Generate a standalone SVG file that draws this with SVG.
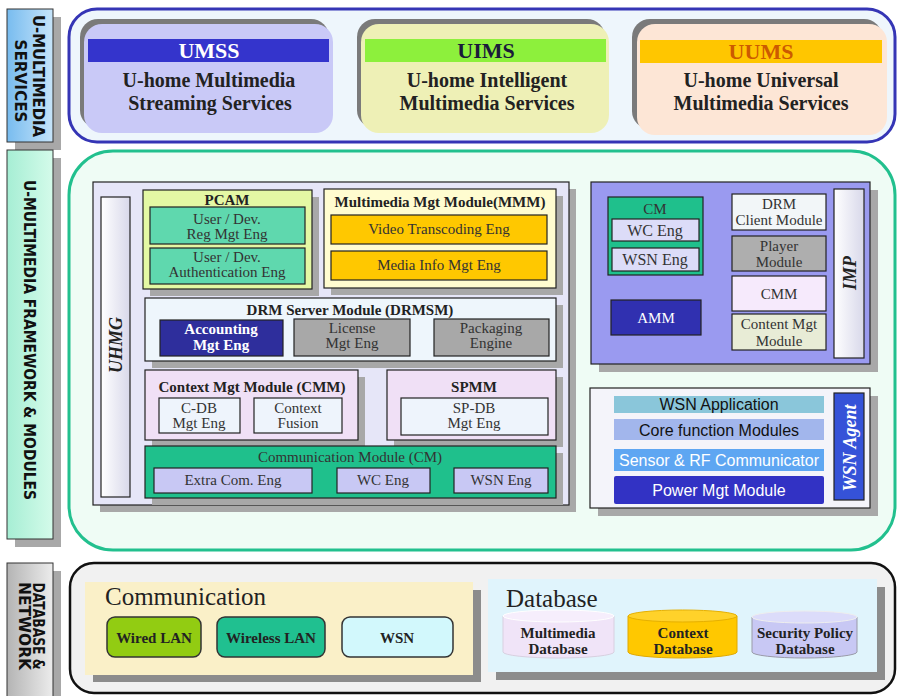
<svg xmlns="http://www.w3.org/2000/svg" width="898" height="696" viewBox="0 0 898 696">
<defs>
<linearGradient id="gBlue" x1="0" y1="0" x2="1" y2="0"><stop offset="0" stop-color="#78bcef"/><stop offset="1" stop-color="#c6e4fa"/></linearGradient>
<linearGradient id="gMint" x1="0" y1="0" x2="1" y2="0"><stop offset="0" stop-color="#a6eed4"/><stop offset="1" stop-color="#d4fbea"/></linearGradient>
<linearGradient id="gGrey" x1="0" y1="0" x2="1" y2="0"><stop offset="0" stop-color="#b4b4b4"/><stop offset="1" stop-color="#ececec"/></linearGradient>
<linearGradient id="gBar" x1="0" y1="0" x2="1" y2="0"><stop offset="0" stop-color="#ffffff"/><stop offset="1" stop-color="#d8d8ea"/></linearGradient>
</defs>
<style>
.sf{font-family:"Liberation Serif","Times New Roman",serif}
.ss{font-family:"Liberation Sans",Arial,sans-serif;font-size:16px}
.lb{font-family:"DejaVu Sans",Verdana,sans-serif;font-weight:bold;fill:#111}
.b{font-weight:bold}
.i{font-style:italic}
.c{text-anchor:middle}
.ln{stroke:#222;stroke-width:1.2}
.sh{fill:#a8a8a8}
.t{font-size:15px;fill:#333}
.h{font-size:15px;font-weight:bold;fill:#222}
.w{fill:#fff}
</style>

<!-- left labels -->
<g id="lbl-services">
<rect x="15" y="17" width="46" height="133" class="sh"/>
<rect x="7" y="9" width="46" height="133" fill="url(#gBlue)" stroke="#333"/>
<text class="lb c" font-size="15" transform="translate(33,76) rotate(90)" textLength="122" lengthAdjust="spacingAndGlyphs">U-MULTIMEDIA</text>
<text class="lb c" font-size="15" transform="translate(15,81) rotate(90)" textLength="83" lengthAdjust="spacingAndGlyphs">SERVICES</text>
</g>
<g id="lbl-framework">
<rect x="15" y="158" width="46" height="389" class="sh"/>
<rect x="7" y="150" width="46" height="389" fill="url(#gMint)" stroke="#333"/>
<text class="lb c" font-size="16" transform="translate(24,340) rotate(90)" textLength="320" lengthAdjust="spacingAndGlyphs">U-MULTIMEDIA FRAMEWORK &amp; MODULES</text>
</g>
<g id="lbl-database">
<rect x="15" y="571" width="46" height="140" class="sh"/>
<rect x="7" y="563" width="46" height="140" fill="url(#gGrey)" stroke="#333"/>
<text class="lb c" font-size="16" transform="translate(33,626) rotate(90)" textLength="87" lengthAdjust="spacingAndGlyphs">DATABASE &amp;</text>
<text class="lb c" font-size="16" transform="translate(19,626) rotate(90)" textLength="88" lengthAdjust="spacingAndGlyphs">NETWORK</text>
</g>

<!-- services panel -->
<g id="services">
<rect x="69" y="9" width="826" height="133" rx="28" fill="#eef6fc" stroke="#3535b5" stroke-width="3"/>
<g id="umss">
<rect x="80" y="19" width="249" height="109" rx="18" fill="#7a7a7a"/>
<rect x="84" y="24" width="249" height="109" rx="18" fill="#c9c9f7"/>
<rect x="88" y="39" width="241" height="23" fill="#3434cc"/>
<text class="sf b c w" font-size="22" x="209" y="58">UMSS</text>
<text class="sf b c" font-size="20" fill="#222" x="209" y="87">U-home Multimedia</text>
<text class="sf b c" font-size="20" fill="#222" x="210" y="110">Streaming Services</text>
</g>
<g id="uims">
<rect x="357" y="19" width="248" height="109" rx="18" fill="#7a7a7a"/>
<rect x="361" y="24" width="248" height="109" rx="18" fill="#eef0b6"/>
<rect x="365" y="39" width="241" height="23" fill="#8df03c"/>
<text class="sf b c" font-size="22" fill="#1a1a3a" x="486" y="58">UIMS</text>
<text class="sf b c" font-size="20" fill="#222" x="487" y="87">U-home Intelligent</text>
<text class="sf b c" font-size="20" fill="#222" x="487" y="110">Multimedia Services</text>
</g>
<g id="uums">
<rect x="632" y="19" width="250" height="110" rx="18" fill="#7a7a7a"/>
<rect x="637" y="24" width="250" height="111" rx="18" fill="#fde6d6"/>
<rect x="640" y="40" width="242" height="23" fill="#ffc600"/>
<text class="sf b c" font-size="22" fill="#cc5a00" x="761" y="59">UUMS</text>
<text class="sf b c" font-size="20" fill="#222" x="761" y="87">U-home Universal</text>
<text class="sf b c" font-size="20" fill="#222" x="761" y="110">Multimedia Services</text>
</g>
</g>

<!-- framework panel -->
<g id="framework">
<rect x="69" y="151" width="826" height="399" rx="44" fill="#effcf5" stroke="#22c08e" stroke-width="3"/>

<g id="uhmg">
<rect x="100" y="189" width="476" height="323" class="sh"/>
<rect x="93" y="182" width="476" height="323" fill="#e6e6f8" class="ln"/>
<rect x="101" y="197" width="29" height="300" fill="url(#gBar)" class="ln"/>
<text class="sf b i c" font-size="18" fill="#222" transform="translate(122,345) rotate(-90)">UHMG</text>
</g>

<g id="pcam">
<rect x="150" y="197" width="169" height="99" class="sh"/>
<rect x="143" y="190" width="169" height="99" fill="#e4f8a4" class="ln"/>
<text class="sf h c" x="227" y="205">PCAM</text>
<rect x="150" y="207" width="155" height="37" fill="#5fd8ae" class="ln"/>
<text class="sf t c" x="227" y="224">User / Dev.</text>
<text class="sf t c" x="227" y="239">Reg Mgt Eng</text>
<rect x="150" y="248" width="155" height="36" fill="#5fd8ae" class="ln"/>
<text class="sf t c" x="227" y="262">User / Dev.</text>
<text class="sf t c" x="227" y="277">Authentication Eng</text>
</g>

<g id="mmm">
<rect x="331" y="196" width="232" height="99" class="sh"/>
<rect x="324" y="189" width="232" height="99" fill="#fffcd0" class="ln"/>
<text class="sf h c" x="440" y="207">Multimedia Mgt Module(MMM)</text>
<rect x="331" y="215" width="216" height="29" fill="#ffc800" class="ln"/>
<text class="sf t c" x="439" y="234">Video Transcoding Eng</text>
<rect x="331" y="251" width="216" height="29" fill="#ffc800" class="ln"/>
<text class="sf t c" x="439" y="270">Media Info Mgt Eng</text>
</g>

<g id="drmsm">
<rect x="152" y="305" width="411" height="63" class="sh"/>
<rect x="145" y="298" width="411" height="63" fill="#eef6fc" class="ln"/>
<text class="sf h c" x="350" y="315">DRM Server Module (DRMSM)</text>
<rect x="160" y="320" width="123" height="36" fill="#2e2e9c" class="ln"/>
<text class="sf h c w" x="221" y="334">Accounting</text>
<text class="sf h c w" x="221" y="350">Mgt Eng</text>
<rect x="294" y="319" width="116" height="37" fill="#a8a8a8" class="ln"/>
<text class="sf t c" x="352" y="333">License</text>
<text class="sf t c" x="352" y="348">Mgt Eng</text>
<rect x="434" y="319" width="115" height="37" fill="#a8a8a8" class="ln"/>
<text class="sf t c" x="491" y="333">Packaging</text>
<text class="sf t c" x="491" y="348">Engine</text>
</g>

<g id="cmm">
<rect x="152" y="377" width="213" height="70" class="sh"/>
<rect x="145" y="370" width="213" height="70" fill="#f0e0f6" class="ln"/>
<text class="sf h c" x="252" y="392">Context Mgt Module (CMM)</text>
<rect x="159" y="398" width="81" height="35" fill="#eef4fc" class="ln"/>
<text class="sf t c" x="199" y="413">C-DB</text>
<text class="sf t c" x="199" y="428">Mgt Eng</text>
<rect x="254" y="398" width="88" height="35" fill="#eef4fc" class="ln"/>
<text class="sf t c" x="298" y="413">Context</text>
<text class="sf t c" x="298" y="428">Fusion</text>
</g>

<g id="spmm">
<rect x="394" y="377" width="169" height="70" class="sh"/>
<rect x="387" y="370" width="169" height="70" fill="#f0e0f6" class="ln"/>
<text class="sf h c" x="474" y="392">SPMM</text>
<rect x="401" y="398" width="147" height="37" fill="#eef4fc" class="ln"/>
<text class="sf t c" x="474" y="413">SP-DB</text>
<text class="sf t c" x="474" y="428">Mgt Eng</text>
</g>

<g id="cm">
<rect x="152" y="453" width="411" height="52" class="sh"/>
<rect x="145" y="446" width="411" height="52" fill="#1fc08c" class="ln"/>
<text class="sf t c" x="350" y="462">Communication Module (CM)</text>
<rect x="154" y="468" width="158" height="25" fill="#c8c8f4" class="ln"/>
<text class="sf t c" x="233" y="485">Extra Com. Eng</text>
<rect x="337" y="468" width="93" height="25" fill="#c8c8f4" class="ln"/>
<text class="sf t c" x="383" y="485">WC Eng</text>
<rect x="454" y="468" width="94" height="25" fill="#c8c8f4" class="ln"/>
<text class="sf t c" x="501" y="485">WSN Eng</text>
</g>

<g id="imp">
<rect x="599" y="190" width="279" height="182" class="sh"/>
<rect x="591" y="182" width="279" height="182" fill="#9a9af0" class="ln"/>
<rect x="608" y="197" width="95" height="78" fill="#1fc08c" class="ln"/>
<text class="sf t c" x="655" y="214">CM</text>
<rect x="612" y="219" width="87" height="22" fill="#dcdcf8" class="ln"/>
<text class="sf c" font-size="16" fill="#333" x="655" y="236">WC Eng</text>
<rect x="612" y="248" width="87" height="23" fill="#dcdcf8" class="ln"/>
<text class="sf c" font-size="16" fill="#333" x="655" y="265">WSN Eng</text>
<rect x="611" y="300" width="90" height="35" fill="#3030b0" class="ln"/>
<text class="sf t c w" x="656" y="323">AMM</text>
<rect x="732" y="194" width="94" height="36" fill="#f2f6f8" class="ln"/>
<text class="sf t c" x="779" y="209">DRM</text>
<text class="sf t c" x="779" y="225">Client Module</text>
<rect x="732" y="236" width="94" height="35" fill="#aeaeae" class="ln"/>
<text class="sf t c" x="779" y="251">Player</text>
<text class="sf t c" x="779" y="267">Module</text>
<rect x="732" y="276" width="94" height="35" fill="#f6eafc" class="ln"/>
<text class="sf t c" x="779" y="299">CMM</text>
<rect x="732" y="314" width="94" height="36" fill="#e8ecd6" class="ln"/>
<text class="sf t c" x="779" y="329">Content Mgt</text>
<text class="sf t c" x="779" y="346">Module</text>
<rect x="834" y="189" width="30" height="169" fill="url(#gBar)" class="ln"/>
<text class="sf b i c" font-size="18" fill="#222" transform="translate(856,273) rotate(-90)">IMP</text>
</g>

<g id="wsn-agent">
<rect x="598" y="396" width="280" height="120" class="sh"/>
<rect x="590" y="388" width="280" height="120" fill="#f4f4fa" class="ln"/>
<rect x="614" y="396" width="210" height="17" fill="#8ac6da"/>
<text class="ss c" fill="#111" x="719" y="410">WSN Application</text>
<rect x="614" y="419" width="210" height="21" fill="#a2b6ec"/>
<text class="ss c" fill="#111" x="719" y="436">Core function Modules</text>
<rect x="614" y="449" width="210" height="22" fill="#5ea6f2"/>
<text class="ss c w" x="719" y="466">Sensor &amp; RF Communicator</text>
<rect x="614" y="476" width="210" height="28" rx="2" fill="#3232c4"/>
<text class="ss c w" x="719" y="496">Power Mgt Module</text>
<rect x="834" y="393" width="30" height="107" fill="#3552d8" class="ln"/>
<text class="sf b i c w" font-size="18" transform="translate(856,448) rotate(-90)">WSN Agent</text>
</g>
</g>

<!-- database & network panel -->
<g id="dbnet">
<rect x="70" y="563" width="825" height="130" rx="24" fill="#f1f1f1" stroke="#111" stroke-width="2.5"/>
<g id="communication">
<rect x="93" y="590" width="388" height="92" fill="#8c8c8c"/>
<rect x="85" y="582" width="388" height="93" fill="#faf0c8"/>
<text class="sf" font-size="25" fill="#222" x="105" y="605">Communication</text>
<rect x="107" y="617" width="94" height="40" rx="8" fill="#92cc12" stroke="#333" stroke-width="1.5"/>
<text class="sf h c" x="154" y="643">Wired LAN</text>
<rect x="217" y="617" width="108" height="40" rx="8" fill="#20c090" stroke="#333" stroke-width="1.5"/>
<text class="sf h c" x="271" y="643">Wireless LAN</text>
<rect x="342" y="617" width="111" height="40" rx="8" fill="#d2f8fc" stroke="#333" stroke-width="1.5"/>
<text class="sf h c" x="397" y="643">WSN</text>
</g>
<g id="database">
<rect x="496" y="587" width="389" height="93" fill="#8c8c8c"/>
<rect x="488" y="579" width="389" height="93" fill="#e0f4fc"/>
<text class="sf" font-size="25" fill="#222" x="506" y="607">Database</text>
<g id="db-multimedia">
<path d="M503 616 L503 652 A55.5 6 0 0 0 614 652 L614 616 Z" fill="#f0e4f8" stroke="#d8d0e0"/>
<ellipse cx="558.5" cy="616" rx="55.5" ry="6" fill="#f6eefc" stroke="#fff"/>
<text class="sf h c" x="558" y="638">Multimedia</text>
<text class="sf h c" x="558" y="654">Database</text>
</g>
<g id="db-context">
<path d="M628 616 L628 652 A54.5 6 0 0 0 737 652 L737 616 Z" fill="#ffc800" stroke="#e0a800"/>
<ellipse cx="682.5" cy="616" rx="54.5" ry="6" fill="#ffd22a" stroke="#e6b000"/>
<text class="sf h c" x="683" y="638">Context</text>
<text class="sf h c" x="683" y="654">Database</text>
</g>
<g id="db-security">
<path d="M752 617 L752 652 A52.5 6 0 0 0 857 652 L857 617 Z" fill="#c8c8f4" stroke="#9a9aa8"/>
<ellipse cx="804.5" cy="617" rx="52.5" ry="6" fill="#dcdcfa" stroke="#eee"/>
<text class="sf h c" x="805" y="638">Security Policy</text>
<text class="sf h c" x="805" y="654">Database</text>
</g>
</g>
</g>
</svg>
